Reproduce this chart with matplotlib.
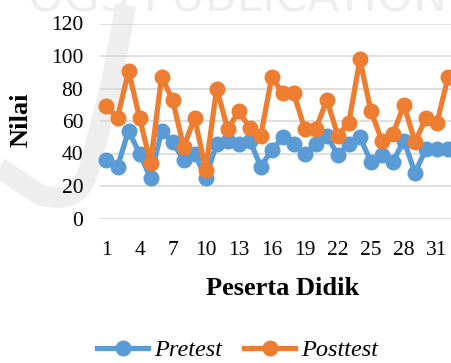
import matplotlib
matplotlib.use("Agg")
import matplotlib.pyplot as plt
from matplotlib.path import Path
from matplotlib.patches import PathPatch

students = list(range(1, 33))
pretest = [36, 32, 54, 40, 25, 54, 47, 36, 40, 25, 46, 48, 46, 48, 32, 42,
           50, 46, 40, 46, 51, 39, 46, 50, 35, 39, 35, 48, 28, 43, 43, 43]
posttest = [69, 62, 91, 62, 34, 87, 73, 44, 62, 30, 80, 55, 66, 56, 51, 87,
            77, 77, 55, 55, 73, 51, 59, 98, 66, 48, 52, 70, 47, 62, 59, 87]
xticks = list(range(1, 32, 3))
yticks = [0, 20, 40, 60, 80, 100, 120]

blue = "#5B9BD5"
orange = "#ED7D31"

plt.rcParams['font.family'] = ['Liberation Serif', 'DejaVu Serif']

fig = plt.figure(figsize=(4.52, 3.63), dpi=100)

# background watermark layer (pixel coordinates)
bg = fig.add_axes([0, 0, 1, 1], zorder=-1)
bg.set_xlim(0, 452)
bg.set_ylim(363, 0)
bg.axis('off')
verts = [(126, 5), (110, 90), (94, 150), (86, 184),
         (80, 205), (40, 195), (-5, 165)]
codes = [Path.MOVETO, Path.LINETO, Path.LINETO, Path.CURVE4,
         Path.CURVE4, Path.CURVE4, Path.LINETO]
bg.add_patch(PathPatch(Path(verts, codes), facecolor='none',
                       edgecolor='#EEEEEE', lw=15, capstyle='butt'))
bg.text(238, 12, "OGS PUBLICATION", ha='center', va='baseline', fontsize=33,
        family='DejaVu Sans', color='#EEEEEE')

ax = fig.add_axes([100/452, (363-218.5)/363, 352/452, 195/363], zorder=1)
ax.set_facecolor('none')

ax.plot(students, pretest, color=blue, lw=3.8, marker='o', ms=10.5,
        label='Pretest', clip_on=False, zorder=3)
ax.plot(students, posttest, color=orange, lw=3.8, marker='o', ms=10.5,
        label='Posttest', clip_on=False, zorder=4)

ax.set_xlim(1 - 6.5/11.02, 32.36)
ax.set_ylim(0, 120)
ax.set_yticks(yticks)
ax.set_xticks(xticks)
ax.grid(axis='y', color='#D9D9D9', lw=1.2)
ax.set_axisbelow(True)
for s in ax.spines.values():
    s.set_visible(False)
ax.tick_params(length=0, labelsize=15.5, colors='black')
ax.tick_params(axis='y', pad=12)
ax.tick_params(axis='x', pad=16)

ax.set_ylabel("Nilai", fontsize=19, fontweight='bold')
ax.set_xlabel("Peserta Didik", fontsize=19, fontweight='bold')
ax.xaxis.set_label_coords((283-100)/352, -(277-218.5)/195)
ax.yaxis.set_label_coords(-(100-32)/352, (218.5-120)/195)

leg = fig.legend(loc='center', bbox_to_anchor=(238/452, 1 - 350/363), ncol=2,
                 frameon=False, prop={'size': 17.5, 'style': 'italic'},
                 handlelength=2.1, columnspacing=0.9, handletextpad=0.25)

fig.savefig("out.png", dpi=100)
